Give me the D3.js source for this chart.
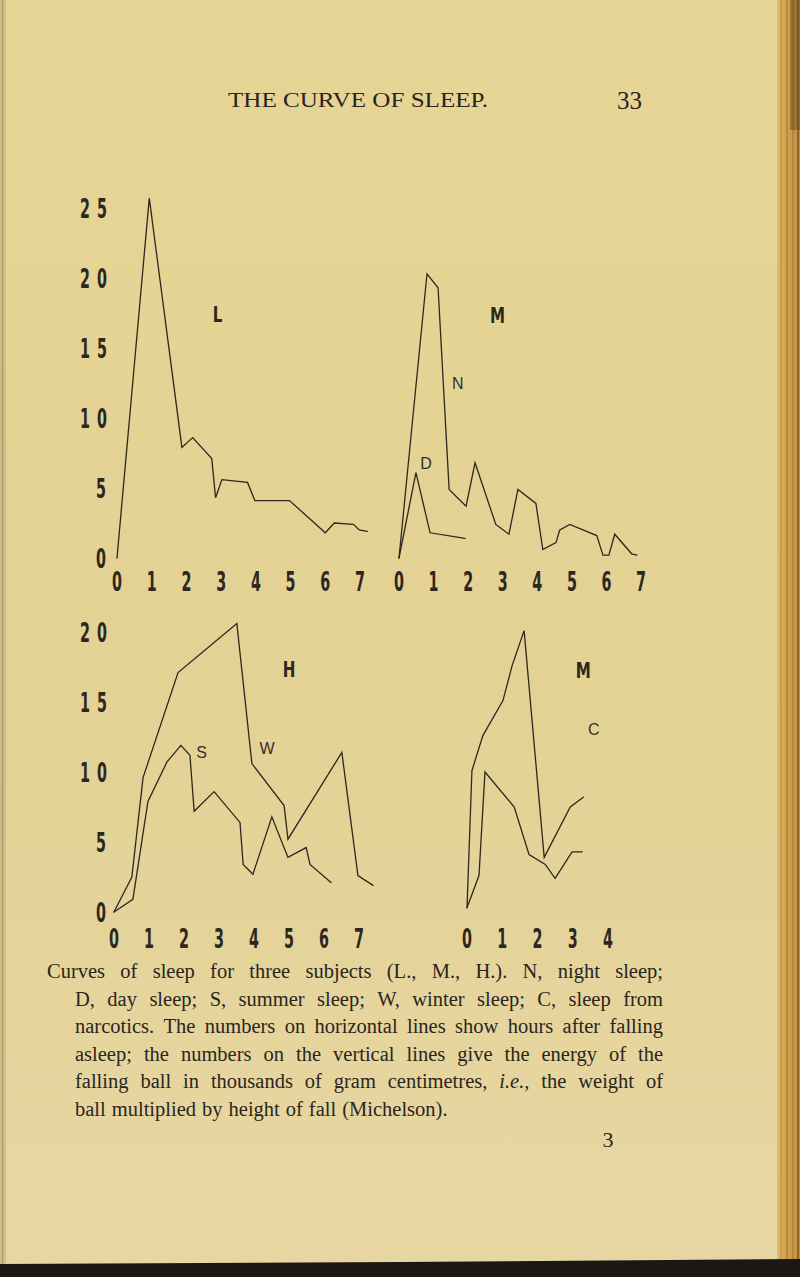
<!DOCTYPE html>
<html><head><meta charset="utf-8">
<script src="https://cdn.jsdelivr.net/npm/d3@7"></script>
<style>html,body{margin:0;padding:0;background:#e4d396;} svg{display:block}</style>
</head><body><svg id="c" width="800" height="1277"></svg>
<script>
// ---------- DATA ----------
const hoursSeven = [0,1,2,3,4,5,6,7];
const hoursFour = [0,1,2,3,4];
const energyTicksTop = [0,5,10,15,20,25];
const energyTicksBottom = [0,5,10,15,20];

// Subject L (night sleep)
const L_hours  = [0,0.93,1.87,2.18,2.73,2.84,3.02,3.76,3.97,4.97,6.0,6.26,6.81,6.98,7.21];
const L_energy = [0,25.7,7.9,8.6,7.1,4.3,5.6,5.4,4.1,4.1,1.8,2.5,2.4,2.0,1.9];

// Subject M: N night sleep, D day sleep
const MN_hours  = [0,0.81,1.13,1.45,1.94,2.2,2.8,3.18,3.44,3.96,4.16,4.54,4.65,4.94,5.72,5.9,6.07,6.24,6.73,6.88];
const MN_energy = [0,20.3,19.3,4.9,3.7,6.8,2.4,1.7,4.9,3.9,0.6,1.1,2.0,2.4,1.6,0.2,0.2,1.7,0.3,0.2];
const MD_hours  = [0,0.49,0.9,1.91];
const MD_energy = [0,6.1,1.8,1.4];

// Subject H: W winter sleep, S summer sleep
const HW_hours  = [0,0.51,0.83,1.83,3.51,3.94,4.86,4.97,6.51,6.97,7.4];
const HW_energy = [0,2.5,9.6,17.1,20.6,10.6,7.6,5.2,11.4,2.6,1.9];
const HS_hours  = [0,0.54,0.97,1.51,1.91,2.17,2.29,2.86,3.6,3.69,3.97,4.51,4.97,5.49,5.6,6.2];
const HS_energy = [0,0.9,7.9,10.7,11.9,11.2,7.2,8.6,6.4,3.4,2.7,6.8,3.9,4.6,3.4,2.1];

// Subject M: ordinary sleep and C, sleep from narcotics
const MO_hours  = [0,0.14,0.45,1.02,1.28,1.62,2.19,2.93,3.3];
const MO_energy = [0.3,10.1,12.6,15.1,17.6,20.1,3.9,7.5,8.2];
const MC_hours  = [0,0.34,0.51,1.34,1.76,2.22,2.5,2.98,3.27];
const MC_energy = [0.3,2.6,10.0,7.5,4.1,3.4,2.4,4.3,4.3];

const headerText = "THE CURVE OF SLEEP.";
const headerPage = "33";
const captionLines = [
  "Curves of sleep for three subjects (L., M., H.).  N, night sleep;",
  "D, day sleep; S, summer sleep; W, winter sleep; C, sleep from",
  "narcotics.  The numbers on horizontal lines show hours after falling",
  "asleep; the numbers on the vertical lines give the energy of the",
  "falling ball in thousands of gram centimetres, i.e., the weight of",
  "ball multiplied by height of fall (Michelson)."
];
const plateNumber = "3";

// ---------- DRAW ----------
const svg = d3.select("#c");
const defs = svg.append("defs");
const pg = defs.append("linearGradient").attr("id","paper").attr("x1",0).attr("y1",0).attr("x2",0).attr("y2",1);
pg.append("stop").attr("offset","0").attr("stop-color","#e6d594");
pg.append("stop").attr("offset","0.5").attr("stop-color","#e3d293");
pg.append("stop").attr("offset","1").attr("stop-color","#e7d6a2");
svg.append("rect").attr("width",800).attr("height",1277).attr("fill","url(#paper)");

// left edge shade
svg.append("rect").attr("x",0).attr("y",0).attr("width",6).attr("height",1277).attr("fill","#cfbd85");
svg.append("rect").attr("x",2).attr("y",0).attr("width",1).attr("height",1277).attr("fill","#a89566");

// right binding strip
const bg = defs.append("linearGradient").attr("id","bind").attr("x1",0).attr("x2",1).attr("y1",0).attr("y2",0);
bg.append("stop").attr("offset","0").attr("stop-color","#dcc070");
bg.append("stop").attr("offset","0.3").attr("stop-color","#d4a654");
bg.append("stop").attr("offset","1").attr("stop-color","#c4923f");
svg.append("rect").attr("x",777).attr("y",0).attr("width",23).attr("height",1277).attr("fill","url(#bind)");
[[781,"#b78a3e",1],[787,"#a77a33",1.2],[793,"#9c6f2c",1],[798,"#7a5522",1.5]].forEach(d=>{
  svg.append("line").attr("x1",d[0]).attr("x2",d[0]).attr("y1",0).attr("y2",1277).attr("stroke",d[1]).attr("stroke-width",d[2]);
});
svg.append("rect").attr("x",790).attr("y",0).attr("width",10).attr("height",130).attr("fill","#6a4a1e").attr("opacity",0.5);

// bottom black band
svg.append("path").attr("d","M0,1264 L400,1262 L800,1259 L800,1277 L0,1277 Z").attr("fill","#1b1714");

const ink = "#2c2720";
const axisFont = "'DejaVu Sans Condensed','DejaVu Sans',sans-serif";

// scales
const xL = d3.scaleLinear().domain([0,7]).range([117,360]);
const xM = d3.scaleLinear().domain([0,7]).range([399,641]);
const xH = d3.scaleLinear().domain([0,7]).range([114,359]);
const xC = d3.scaleLinear().domain([0,4]).range([467,608]);
const yTop = d3.scaleLinear().domain([0,25]).range([558,208]);
const yBot = d3.scaleLinear().domain([0,20]).range([912,632]);

function digitLabel(g, x, y, txt){
  return g.append("text")
    .attr("transform",`translate(${x},${y}) scale(0.6,1)`)
    .attr("text-anchor","middle")
    .attr("font-family",axisFont).attr("font-weight","bold").attr("font-size",26.5)
    .attr("fill",ink).text(txt);
}

function xAxisLabels(scale, hours, baseY){
  const g = svg.append("g");
  hours.forEach(h => digitLabel(g, scale(h), baseY, String(h)));
}
function yAxisLabels(scale, ticks){
  const g = svg.append("g");
  ticks.forEach(v => {
    const s = String(v);
    const base = scale(v) + 10;
    if (s.length > 1) {
      digitLabel(g, 85, base, s[0]);
      digitLabel(g, 102, base, s[1]);
    } else {
      digitLabel(g, 101, base, s);
    }
  });
}

xAxisLabels(xL, hoursSeven, 591);
xAxisLabels(xM, hoursSeven, 591);
xAxisLabels(xH, hoursSeven, 948);
xAxisLabels(xC, hoursFour, 948);
yAxisLabels(yTop, energyTicksTop);
yAxisLabels(yBot, energyTicksBottom);

function curve(xs, hours, energy, yScale){
  const pts = hours.map((h,i)=>[h, energy[i]]);
  svg.append("path").datum(pts)
    .attr("d", d3.line().x(d=>xs(d[0])).y(d=>yScale(d[1])))
    .attr("fill","none").attr("stroke",ink).attr("stroke-width",1.3)
    .attr("stroke-linejoin","miter").attr("stroke-linecap","round");
}
curve(xL, L_hours, L_energy, yTop);
curve(xM, MN_hours, MN_energy, yTop);
curve(xM, MD_hours, MD_energy, yTop);
curve(xH, HW_hours, HW_energy, yBot);
curve(xH, HS_hours, HS_energy, yBot);
curve(xC, MO_hours, MO_energy, yBot);
curve(xC, MC_hours, MC_energy, yBot);

// panel letters
function bigLetter(x,y,t){
  svg.append("text").attr("transform",`translate(${x},${y}) scale(0.82,1)`).attr("text-anchor","middle")
    .attr("font-family",axisFont).attr("font-weight","bold").attr("font-size",20.5).attr("fill",ink).text(t);
}
function smallLetter(x,y,t){
  svg.append("text").attr("x",x).attr("y",y).attr("text-anchor","middle")
    .attr("font-family","'Liberation Sans','DejaVu Sans',sans-serif").attr("font-size",16).attr("fill","#35302a").text(t);
}
bigLetter(xL(2.9), yTop(16.86), "L");
bigLetter(xM(2.85), yTop(16.8), "M");
bigLetter(xH(5.0), yBot(16.8), "H");
bigLetter(xC(3.3), yBot(16.7), "M");
smallLetter(xM(1.7), yTop(12.07), "N");
smallLetter(xM(0.78), yTop(6.36), "D");
smallLetter(xH(2.5), yBot(11.0), "S");
smallLetter(xH(4.37), yBot(11.3), "W");
smallLetter(xC(3.6), yBot(12.64), "C");

// header
const serif = "'Liberation Serif','DejaVu Serif',serif";
svg.append("text").attr("x",228).attr("y",107).attr("font-family",serif).attr("font-size",21)
  .attr("textLength",260).attr("lengthAdjust","spacingAndGlyphs").attr("fill","#28231d").text(headerText);
svg.append("text").attr("x",617).attr("y",109).attr("font-family",serif).attr("font-size",25)
  .attr("fill","#28231d").text(headerPage);

// caption (justified)
const capSize = 20.5;
const lineBase = 978, lineStep = 27.6;
const measurer = svg.append("text").attr("font-family",serif).attr("font-size",capSize).attr("visibility","hidden");
function wordWidth(w, italic){
  measurer.attr("font-style", italic?"italic":"normal").text(w);
  return measurer.node().getComputedTextLength();
}
captionLines.forEach((line, i) => {
  const x0 = i===0 ? 47 : 75, x1 = 663;
  const words = line.split(/\s+/);
  const widths = words.map(w => wordWidth(w, w==="i.e.,"));
  const justify = i < captionLines.length-1;
  const total = d3.sum(widths);
  const gap = justify ? (x1-x0-total)/(words.length-1) : 6;
  const t = svg.append("text").attr("y", lineBase + i*lineStep).attr("font-family",serif)
    .attr("font-size",capSize).attr("fill","#2a251f");
  let x = x0;
  words.forEach((w,k)=>{
    t.append("tspan").attr("x",x).attr("font-style", w==="i.e.,"?"italic":"normal").text(w);
    x += widths[k] + gap;
  });
});
measurer.remove();
svg.append("text").attr("x",608).attr("y",1147).attr("text-anchor","middle").attr("font-family",serif)
  .attr("font-size",22).attr("fill","#2a251f").text(plateNumber);
</script></body></html>
